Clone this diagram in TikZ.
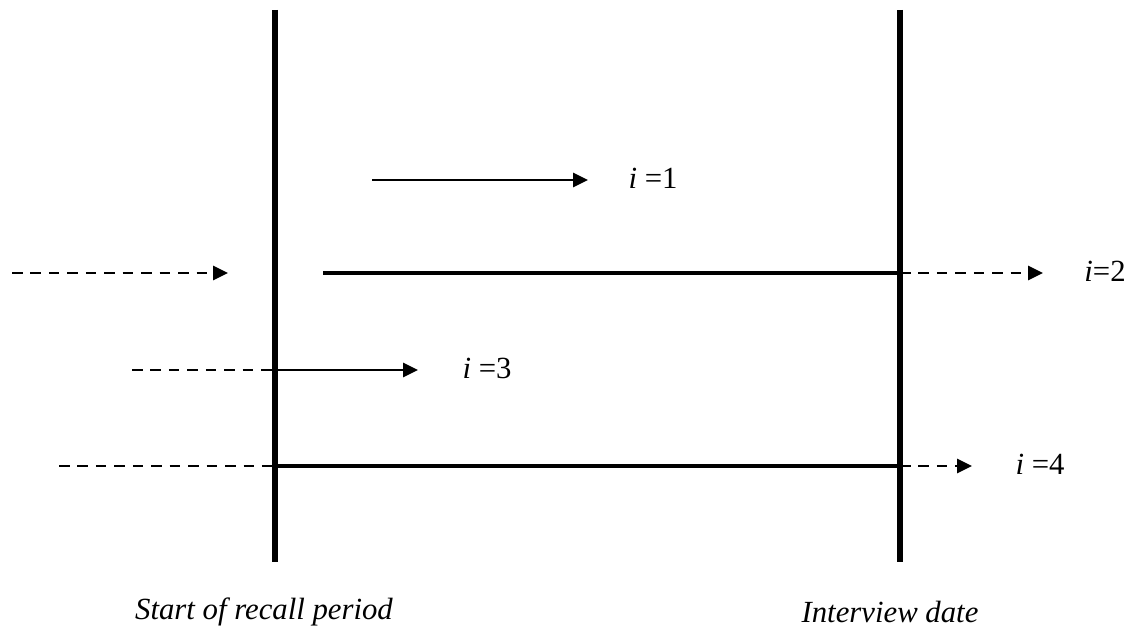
\documentclass[tikz,border=0pt]{standalone}
\usepackage{fontspec}
\setmainfont{Liberation Serif}
\usetikzlibrary{arrows.meta}
\begin{document}
\begin{tikzpicture}[>={Triangle[length=8.5pt,width=8pt]},
    bound/.style={line width=3.6pt},
    spell/.style={line width=2.3pt},
    move/.style={line width=1.5pt},
    hidden/.style={line width=1.6pt, dash pattern=on 6pt off 4.5pt},
    lab/.style={font=\fontsize{17.5}{20}\selectfont}]
        \useasboundingbox (0,0) rectangle (22.74,12.74);

        % Recall window
        \coordinate (s-top) at (5.5,12.54);
        \coordinate (s-bot) at (5.5,1.5);
        \coordinate (e-top) at (18.0,12.54);
        \coordinate (e-bot) at (18.0,1.5);
        \draw[bound] (s-top) -- (s-bot);
        \draw[bound] (e-top) -- (e-bot);

        % i = 1
        \coordinate (a1) at (7.44,9.14);
        \coordinate (b1) at (11.76,9.14);
        \draw[move, ->] (a1) -- (b1);
        \node[lab] (i1) at (13.06,9.18) {\textit{i} =1};

        % i = 2
        \coordinate (a2) at (0.24,7.28);
        \coordinate (b2) at (4.56,7.28);
        \coordinate (c2) at (6.46,7.28);
        \coordinate (d2) at (18.0,7.28);
        \coordinate (f2) at (20.86,7.28);
        \draw[hidden, ->] (a2) -- (b2);
        \draw[spell] (c2) -- (d2);
        \draw[hidden, ->] (d2) -- (f2);
        \node[lab] (i2) at (22.1,7.32) {\textit{i}=2};

        % i = 3
        \coordinate (a3) at (2.64,5.34);
        \coordinate (c3) at (5.5,5.34);
        \coordinate (b3) at (8.36,5.34);
        \draw[hidden] (a3) -- (c3);
        \draw[move, ->] (c3) -- (b3);
        \node[lab] (i3) at (9.74,5.38) {\textit{i} =3};

        % i = 4
        \coordinate (a4) at (1.18,3.42);
        \coordinate (c4) at (5.5,3.42);
        \coordinate (d4) at (18.0,3.42);
        \coordinate (f4) at (19.44,3.42);
        \draw[hidden] (a4) -- (c4);
        \draw[spell] (c4) -- (d4);
        \draw[hidden, ->] (d4) -- (f4);
        \node[lab] (i4) at (20.8,3.46) {\textit{i} =4};

        \node[lab, font=\fontsize{17.5}{20}\selectfont\itshape] (start) at (5.28,0.5) {Start of recall period};
        \node[lab, font=\fontsize{17.5}{20}\selectfont\itshape] (iview) at (17.8,0.5) {Interview date};
\end{tikzpicture}
\end{document}
